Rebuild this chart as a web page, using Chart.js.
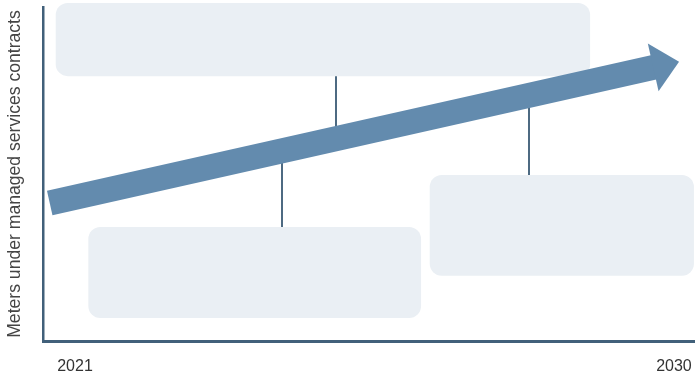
<!DOCTYPE html>
<html><head><meta charset="utf-8">
<script src="https://cdn.jsdelivr.net/npm/chart.js@4/dist/chart.umd.min.js"></script>
<style>html,body{margin:0;padding:0;background:#fff}canvas{display:block}</style>
</head><body>
<canvas id="c" width="695" height="379"></canvas>
<script>
// ---- data ----
const tickYears = [2021, 2030];
const yAxisTitle = 'Meters under managed services contracts';
// trend arrow (tail, head base)
const arrowYears = [2020.62, 2029.71];
const arrowValues = [41.3, 82.0];
// empty callout boxes (year range, value range)
const calloutX0 = [2020.71, 2021.20, 2026.33];
const calloutX1 = [2028.74, 2026.20, 2030.30];
const calloutTop = [101.2, 34.1, 49.7];
const calloutBottom = [79.3, 6.9, 19.5];
// connector leaders (year, from value, to value)
const connectorYears = [2024.92, 2024.11, 2027.82];
const connectorFrom = [79.3, 34.1, 49.7];
const connectorTo = [60.8, 56.9, 73.6];

const ARROW = '#638bae';
const AXIS = '#41607a';
const FONT = '"Liberation Sans", Arial, Helvetica, sans-serif';

const decor = {
  id: 'decor',
  beforeDatasetsDraw(chart) {
    const {ctx, scales: {x, y}} = chart;
    ctx.save();
    ctx.fillStyle = '#eaeff4';
    for (let i = 0; i < calloutX0.length; i++) {
      const l = x.getPixelForValue(calloutX0[i]), r = x.getPixelForValue(calloutX1[i]);
      const t = y.getPixelForValue(calloutTop[i]), b = y.getPixelForValue(calloutBottom[i]);
      ctx.beginPath();
      ctx.roundRect(l, t, r - l, b - t, 12);
      ctx.fill();
    }
    ctx.strokeStyle = '#4d6a82';
    ctx.lineWidth = 2;
    for (let i = 0; i < connectorYears.length; i++) {
      const px = Math.round(x.getPixelForValue(connectorYears[i]));
      ctx.beginPath();
      ctx.moveTo(px, y.getPixelForValue(connectorFrom[i]));
      ctx.lineTo(px, y.getPixelForValue(connectorTo[i]));
      ctx.stroke();
    }
    ctx.restore();
  },
  afterDatasetsDraw(chart) {
    const {ctx} = chart;
    const pts = chart.getDatasetMeta(0).data;
    const p0 = pts[0], p1 = pts[pts.length - 1];
    const dx = p1.x - p0.x, dy = p1.y - p0.y, len = Math.hypot(dx, dy);
    const ux = dx / len, uy = dy / len, nx = -uy, ny = ux;
    const half = 24.5, L = 25, back = 1.5;
    const bx = p1.x - ux * back, by = p1.y - uy * back;
    ctx.save();
    ctx.fillStyle = ARROW;
    ctx.beginPath();
    ctx.moveTo(bx + nx * half, by + ny * half);
    ctx.lineTo(p1.x + ux * L, p1.y + uy * L);
    ctx.lineTo(bx - nx * half, by - ny * half);
    ctx.closePath();
    ctx.fill();
    ctx.restore();
  }
};

new Chart(document.getElementById('c'), {
  type: 'line',
  data: {
    datasets: [{
      data: arrowYears.map((v, i) => ({x: v, y: arrowValues[i]})),
      borderColor: ARROW,
      borderWidth: 25,
      borderCapStyle: 'butt',
      pointRadius: 0,
      tension: 0,
      clip: false
    }]
  },
  options: {
    responsive: false,
    animation: false,
    events: [],
    layout: {padding: {top: 7, right: 0, left: 0, bottom: 0}},
    plugins: {legend: {display: false}, tooltip: {enabled: false}},
    scales: {
      x: {
        type: 'linear',
        min: 2020.519,
        max: 2030.316,
        afterBuildTicks: s => { s.ticks = tickYears.map(v => ({value: v})); },
        afterFit: s => { s.height = 38; s.paddingLeft = 0; s.paddingRight = 0; s.paddingTop = 0; s.paddingBottom = 0; },
        grid: {display: false, drawTicks: false},
        border: {display: true, color: AXIS, width: 3},
        ticks: {
          callback: v => String(v),
          font: {family: FONT, size: 16},
          color: '#333',
          padding: 16,
          maxRotation: 0,
          autoSkip: false
        }
      },
      y: {
        type: 'linear',
        min: 0,
        max: 100,
        afterFit: s => { s.width = 43; s.paddingLeft = 0; s.paddingRight = 0; s.paddingTop = 0; s.paddingBottom = 0; },
        grid: {display: false, drawTicks: false},
        border: {display: true, color: AXIS, width: 2.5},
        ticks: {display: false},
        title: {
          display: true,
          text: yAxisTitle,
          font: {family: FONT, size: 17.6},
          color: '#444',
          padding: {top: 5, bottom: 0}
        }
      }
    }
  },
  plugins: [decor]
});
</script>
</body></html>
